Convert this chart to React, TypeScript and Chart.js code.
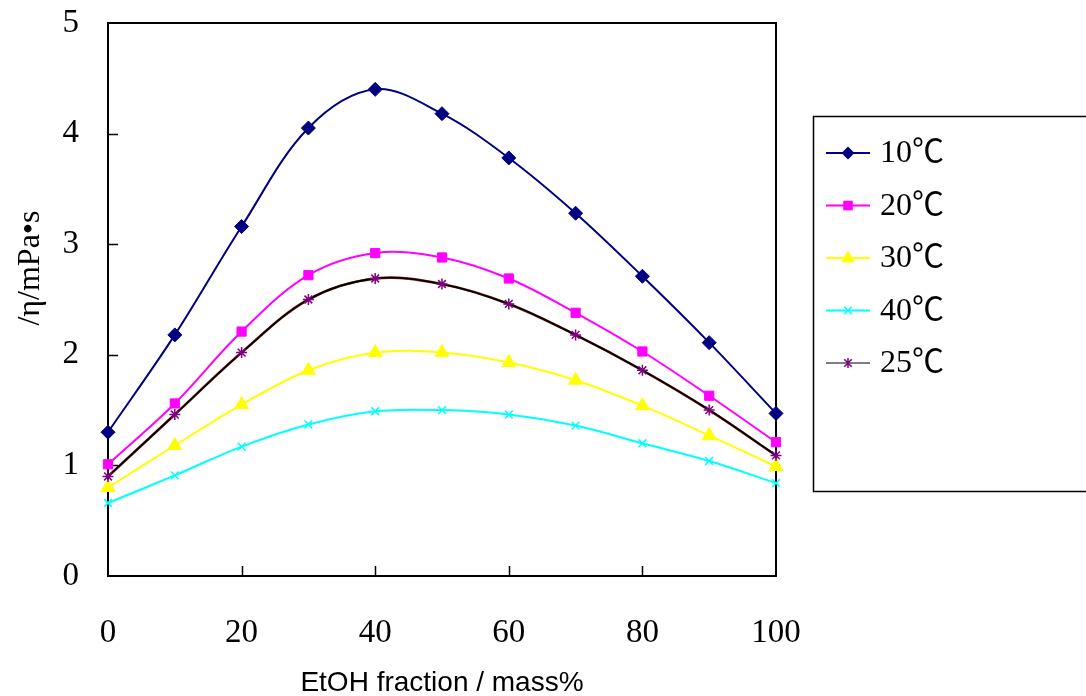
import React, { useEffect, useRef } from 'react';
import { Chart, registerables } from 'chart.js';

Chart.register(...registerables);

const massFraction = [0, 10, 20, 30, 40, 50, 60, 70, 80, 90, 100];
const seriesLabels = ['10℃', '20℃', '30℃', '40℃', '25℃'];
const eta10 = [1.3, 2.18, 3.16, 4.05, 4.4, 4.18, 3.78, 3.28, 2.71, 2.11, 1.47];
const eta20 = [1.01, 1.56, 2.21, 2.72, 2.92, 2.88, 2.69, 2.38, 2.03, 1.63, 1.21];
const eta30 = [0.8, 1.18, 1.55, 1.86, 2.02, 2.02, 1.93, 1.77, 1.54, 1.27, 0.99];
const eta40 = [0.66, 0.91, 1.17, 1.37, 1.49, 1.5, 1.46, 1.36, 1.2, 1.04, 0.84];
const eta25 = [0.9, 1.46, 2.02, 2.5, 2.69, 2.64, 2.46, 2.18, 1.86, 1.5, 1.09];
const xTickValues = [0, 20, 40, 60, 80, 100];
const yTickValues = [0, 1, 2, 3, 4, 5];
const xTitle = 'EtOH fraction / mass%';
const yTitle = '/η/mPa•s';

const colors = ['#000080', '#FF00FF', '#FFFF00', '#00FFFF', '#000000'];
const markerColors = ['#000080', '#FF00FF', '#FFFF00', '#00FFFF', '#800080'];
const markerStyles = ['rectRot', 'rect', 'triangle', 'crossRot', 'star'];
const markerRadii = [7, 6.5, 8, 5.5, 5.5];

function drawMarker(ctx: CanvasRenderingContext2D, style: string, x: number, y: number, r: number, color: string) {
  ctx.save();
  ctx.fillStyle = color;
  ctx.strokeStyle = color;
  ctx.lineWidth = 1.5;
  ctx.beginPath();
  if (style === 'rectRot') {
    ctx.moveTo(x, y - r); ctx.lineTo(x + r, y); ctx.lineTo(x, y + r); ctx.lineTo(x - r, y); ctx.closePath(); ctx.fill();
  } else if (style === 'rect') {
    const s = r * 0.8;
    ctx.rect(x - s, y - s, 2 * s, 2 * s); ctx.fill();
  } else if (style === 'triangle') {
    ctx.moveTo(x, y - r); ctx.lineTo(x + r * 0.9, y + r * 0.6); ctx.lineTo(x - r * 0.9, y + r * 0.6); ctx.closePath(); ctx.fill();
  } else if (style === 'crossRot') {
    const s = r * 0.75;
    ctx.moveTo(x - s, y - s); ctx.lineTo(x + s, y + s); ctx.moveTo(x + s, y - s); ctx.lineTo(x - s, y + s); ctx.stroke();
  } else if (style === 'star') {
    const s = r * 0.75;
    ctx.moveTo(x - s, y - s); ctx.lineTo(x + s, y + s); ctx.moveTo(x + s, y - s); ctx.lineTo(x - s, y + s);
    ctx.moveTo(x, y - r); ctx.lineTo(x, y + r); ctx.stroke();
  }
  ctx.restore();
}

const framePlugin = {
  id: 'frame',
  beforeDatasetsDraw(chart: any) {
    const { ctx, chartArea } = chart;
    const { left, right, top, bottom } = chartArea;
    ctx.save();
    ctx.strokeStyle = '#000';
    ctx.lineWidth = 2;
    ctx.strokeRect(left, top, right - left, bottom - top);
    ctx.lineWidth = 1.5;
    ctx.beginPath();
    const xs = chart.scales.x;
    const ys = chart.scales.y;
    xTickValues.slice(1, -1).forEach((v) => {
      const px = Math.round(xs.getPixelForValue(v)) + 0.5;
      ctx.moveTo(px, bottom);
      ctx.lineTo(px, bottom - 10);
    });
    yTickValues.slice(1, -1).forEach((v) => {
      const py = Math.round(ys.getPixelForValue(v)) + 0.5;
      ctx.moveTo(left, py);
      ctx.lineTo(left + 10, py);
    });
    ctx.stroke();
    ctx.restore();
  },
  afterDraw(chart: any) {
    const { ctx, chartArea } = chart;
    ctx.save();
    ctx.fillStyle = '#000';
    ctx.textAlign = 'center';
    ctx.textBaseline = 'middle';
    ctx.font = "28px 'Liberation Sans', Arial, sans-serif";
    ctx.fillText(xTitle, (chartArea.left + chartArea.right) / 2, 683);
    ctx.save();
    ctx.translate(31, 268);
    ctx.rotate(-Math.PI / 2);
    ctx.font = "32px 'Liberation Serif', 'DejaVu Serif', serif";
    ctx.fillText(yTitle, 0, 0);
    ctx.restore();

    ctx.strokeStyle = '#000';
    ctx.lineWidth = 1.5;
    ctx.strokeRect(813.5, 116.5, 320, 375);
    ctx.font = "32px 'Liberation Serif', 'Noto Sans CJK JP', serif";
    ctx.textAlign = 'left';
    ctx.textBaseline = 'middle';
    seriesLabels.forEach((label, i) => {
      const y = 153 + i * 52.5;
      ctx.beginPath();
      ctx.strokeStyle = colors[i];
      ctx.lineWidth = i === 4 ? 1.2 : 1.8;
      ctx.moveTo(826, y);
      ctx.lineTo(870, y);
      ctx.stroke();
      drawMarker(ctx, markerStyles[i], 848, y, markerRadii[i] - 0.5, markerColors[i]);
      ctx.fillStyle = '#000';
      ctx.fillText(label, 880, y + 1);
    });
    ctx.restore();
  },
};

export default function App() {
  const canvasRef = useRef<HTMLCanvasElement | null>(null);

  useEffect(() => {
    document.body.style.margin = '0';
    const canvas = canvasRef.current;
    if (!canvas) return;
    const series = [eta10, eta20, eta30, eta40, eta25];
    const datasets: any[] = series.map((vals, i) => ({
      label: seriesLabels[i],
      data: massFraction.map((x, j) => ({ x, y: vals[j] })),
      borderColor: colors[i],
      backgroundColor: markerColors[i],
      pointBackgroundColor: markerColors[i],
      pointBorderColor: markerColors[i],
      pointStyle: markerStyles[i],
      pointRadius: markerRadii[i],
      pointBorderWidth: i >= 3 ? 1.5 : 1,
      borderWidth: i === 4 ? 1.8 : 2,
      tension: 0.35,
      fill: false,
      clip: false,
      order: i === 4 ? 1 : 2,
    }));
    datasets.push({
      label: '',
      data: massFraction.map((x, j) => ({ x, y: eta25[j] })),
      borderColor: '#A0302A',
      borderWidth: 2.6,
      pointRadius: 0,
      tension: 0.35,
      fill: false,
      clip: false,
      order: 3,
    });

    const chart = new Chart(canvas, {
      type: 'line',
      data: { datasets },
      options: {
        responsive: false,
        animation: false,
        layout: { autoPadding: false, padding: { left: 0, right: 310, top: 23, bottom: 0 } },
        plugins: { legend: { display: false }, tooltip: { enabled: false } },
        scales: {
          x: {
            type: 'linear',
            min: 0,
            max: 100,
            grid: { display: false, drawTicks: false },
            border: { display: false },
            afterBuildTicks: (scale: any) => {
              scale.ticks = xTickValues.map((v) => ({ value: v }));
            },
            afterFit: (scale: any) => {
              scale.height = 120;
              scale.paddingLeft = 0;
              scale.paddingRight = 0;
            },
            ticks: {
              padding: 38,
              color: '#000',
              maxRotation: 0,
              font: { family: "'Liberation Serif', 'Times New Roman', serif", size: 33 },
            },
          },
          y: {
            min: 0,
            max: 5,
            grid: { display: false, drawTicks: false },
            border: { display: false },
            afterBuildTicks: (scale: any) => {
              scale.ticks = yTickValues.map((v) => ({ value: v }));
            },
            afterFit: (scale: any) => {
              scale.width = 108;
              scale.paddingTop = 0;
              scale.paddingBottom = 0;
            },
            ticks: {
              padding: 29,
              color: '#000',
              font: { family: "'Liberation Serif', 'Times New Roman', serif", size: 33 },
            },
          },
        },
      },
      plugins: [framePlugin],
    });
    return () => chart.destroy();
  }, []);

  return (
    <div style={{ position: 'fixed', left: 0, top: 0, width: 1086, height: 696, background: '#fff' }}>
      <canvas ref={canvasRef} width={1086} height={696} style={{ width: 1086, height: 696 }} />
    </div>
  );
}
